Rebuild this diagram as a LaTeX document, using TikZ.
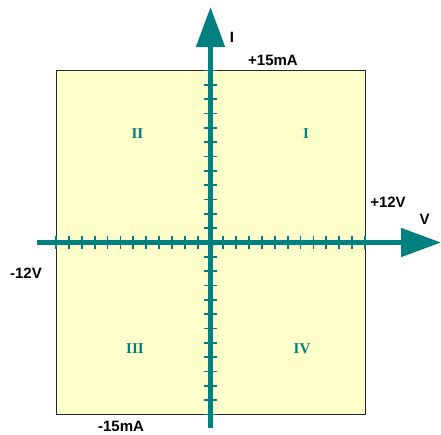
\documentclass[tikz,border=0pt]{standalone}
\usepackage{fontspec}
\setmainfont{Liberation Sans}
\newfontfamily\quadserif{Liberation Serif}
\usepackage{tikz}
\usetikzlibrary{arrows.meta,positioning}
\definecolor{axteal}{RGB}{0,128,128}
\definecolor{padyellow}{RGB}{255,255,204}
\tikzset{
  panel/.style={fill=padyellow,draw=black!85,line width=1pt},
  axisline/.style={axteal,line width=5pt,-{Triangle[length=40pt,width=28pt]}},
  tickmark/.style={axteal,line width=1.8pt},
  axlbl/.style={font=\bfseries\fontsize{15}{17}\selectfont,inner sep=0pt},
  quadlbl/.style={font=\quadserif\bfseries\fontsize{15}{17}\selectfont,
    text=axteal,inner sep=0pt},
}

\begin{document}
\begin{tikzpicture}[x=1pt,y=-1pt]
  \useasboundingbox (0,0) rectangle (441,434);
  % panel
  \coordinate (nw) at (56,70);
  \coordinate (se) at (365,414);
  \draw[panel] (nw) rectangle (se);
  % axes
  \coordinate (vl) at (37,242.5);
  \coordinate (vr) at (441,242.5);
  \coordinate (ib) at (210.5,428);
  \coordinate (it) at (210.5,7);
  \draw[axisline] (vl) -- (vr);
  \draw[axisline] (ib) -- (it);
  \foreach \i in {-12,...,-1,1,2,...,12}
    \draw[tickmark] (210.5+12.87*\i,236) -- (210.5+12.87*\i,249);
  \foreach \j in {-12,...,-1,1,2,...,12}
    \draw[tickmark] (204,242.5+14.33*\j) -- (217,242.5+14.33*\j);
  % axis labels
  \node[axlbl] (ilbl) at (232,37.5) {I};
  \node[axlbl] (imax) at (273,60) {+15mA};
  \node[axlbl] (imin) at (121,426) {-15mA};
  \node[axlbl] (vmax) at (388,202) {+12V};
  \node[axlbl] (vlbl) at (424.5,219.5) {V};
  \node[axlbl] (vmin) at (26,273) {-12V};
  % quadrants
  \node[quadlbl] (q1) at (306,134) {I};
  \node[quadlbl] (q2) at (137.5,133.5) {II};
  \node[quadlbl] (q3) at (135,348.5) {III};
  \node[quadlbl] (q4) at (302,349) {IV};
\end{tikzpicture}
\end{document}
